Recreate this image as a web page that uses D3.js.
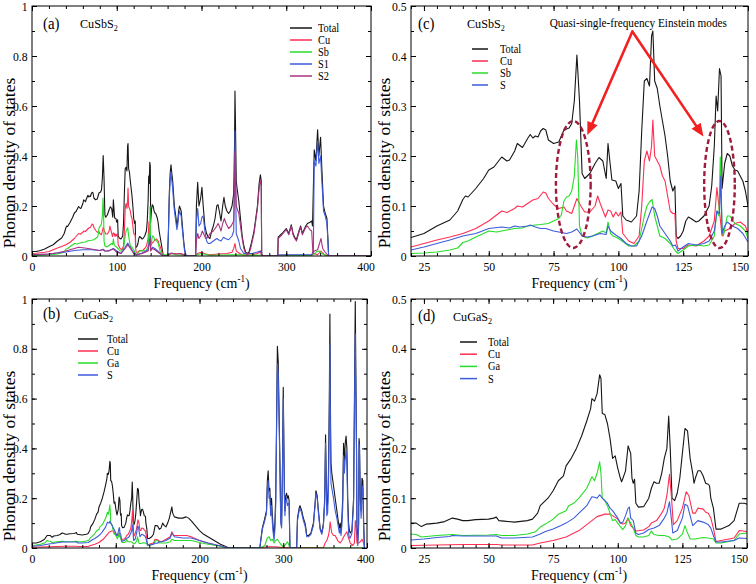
<!DOCTYPE html>
<html><head><meta charset="utf-8">
<script src="https://cdn.jsdelivr.net/npm/d3@7"></script>
<style>body{margin:0;background:#fff}svg{display:block}svg text{font-family:"Liberation Serif","Times New Roman","DejaVu Serif",serif}</style>
</head><body><svg id="chart" width="756" height="584"></svg>
<script>
// ---------------- DATA (frequency cm^-1, phonon DOS) ----------------
// CuSbS2, 20-150 cm^-1 (panel c, also low part of panel a)
const cTotal=[[20,.037],[25,.045],[30,.06],[35,.072],[38,.09],[40,.113],[41,.12],[42,.118],[45,.135],[48,.155],[50,.172],[52,.178],[55,.198],[57,.19],[58,.192],[60,.21],[61,.225],[63,.217],[65,.235],[66,.243],[67,.236],[68,.24],[69,.238],[70,.25],[71,.255],[72,.252],[73,.232],[75,.225],[77,.228],[78,.24],[79,.252],[81,.256],[82,.265],[83,.31],[84,.402],[85,.31],[86,.165],[87,.155],[89,.165],[91,.185],[92.5,.197],[94,.19],[95.3,.155],[96,.225],[96.7,.19],[97.5,.152],[99,.15],[100,.135],[101,.145],[101.7,.08],[103,.072],[105,.068],[107,.08],[108,.13],[109,.25],[110,.35],[111,.355],[112,.34],[112.8,.44],[113.3,.45],[114,.35],[115,.335],[116,.3],[117,.27],[118,.24],[119,.2],[120,.15],[121,.13],[121.8,.14],[122.3,.04],[123,.035],[124,.04],[125,.05],[126,.07],[127,.078],[128,.075],[130,.068],[131,.07],[133,.08],[135,.1],[136,.14],[137,.22],[137.7,.32],[138.3,.29],[139,.375],[139.6,.36],[140,.135],[140.5,.16],[141,.185],[142,.205],[143,.2],[144,.18],[145,.172],[146,.17],[147,.16],[148,.15],[149,.13],[150,.1]];
const cCu=[[20,.018],[25,.025],[30,.032],[35,.038],[40,.045],[45,.055],[50,.07],[53,.082],[55,.09],[57,.087],[60,.095],[61,.1],[63,.098],[65,.105],[67,.112],[69,.115],[71,.128],[72,.126],[73,.115],[75,.103],[77,.095],[79,.098],[80,.09],[82,.085],[84,.115],[85.5,.1],[87,.088],[89,.088],[91,.1],[92,.12],[93,.105],[95,.078],[96,.092],[97,.09],[98,.078],[99,.088],[100,.08],[101,.088],[101.7,.045],[104,.03],[106,.025],[108,.04],[109,.1],[110,.19],[111,.21],[112,.19],[112.8,.22],[113.3,.272],[114,.2],[115,.19],[116,.18],[117,.16],[118,.15],[119,.12],[120,.09],[121,.085],[121.8,.085],[122.3,.03],[123,.015],[125,.015],[127,.022],[130,.02],[133,.03],[135,.04],[137,.07],[138,.137],[139,.09],[140,.04],[141,.05],[143,.055],[145,.065],[147,.068],[149,.06],[150,.045]];
const cSb=[[20,.005],[25,.006],[30,.008],[35,.012],[38,.016],[40,.027],[42,.03],[45,.038],[48,.045],[50,.05],[53,.048],[55,.05],[58,.053],[60,.055],[63,.056],[65,.06],[68,.062],[70,.063],[73,.065],[75,.07],[77,.075],[78,.082],[79,.11],[80,.118],[81,.12],[82,.13],[83,.16],[83.8,.232],[84.3,.2],[85,.06],[86,.04],[88,.036],[90,.04],[92,.045],[94,.05],[95.3,.046],[96,.068],[97,.045],[98,.04],[100,.035],[102,.028],[104,.02],[106,.02],[108,.03],[110,.08],[111,.1],[112,.108],[113,.113],[114,.08],[116,.04],[118,.035],[120,.025],[122,.01],[123,.005],[125,.012],[127,.02],[130,.022],[133,.02],[135,.022],[137,.04],[138,.09],[138.8,.08],[139.3,.198],[140,.06],[140.5,.04],[142,.08],[143,.08],[145,.065],[147,.06],[149,.05],[150,.035]];
const cS=[[20,.012],[25,.018],[30,.025],[35,.032],[40,.04],[45,.045],[50,.055],[55,.058],[58,.056],[60,.06],[62,.058],[65,.06],[66,.062],[68,.058],[70,.055],[72,.055],[75,.05],[80,.045],[82,.048],[84,.054],[86,.04],[88,.038],[90,.04],[93,.045],[95.3,.043],[96,.06],[97,.05],[99,.042],[101,.035],[103,.025],[105,.02],[107,.02],[109,.04],[111,.07],[113,.098],[114,.095],[115,.08],[116,.06],[118,.045],[120,.03],[121,.02],[122,.022],[123,.01],[125,.018],[127,.025],[130,.022],[133,.025],[135,.03],[137,.05],[138,.09],[139,.085],[139.5,.16],[140,.045],[141,.06],[142,.068],[144,.06],[146,.055],[148,.045],[150,.028]];

// CuSbS2, 0-20 and 150-400 cm^-1 (rest of panel a)
const aTotalLow=[[0,.018],[5,.018],[10,.022],[15,.028]];
const aCuLow=[[0,.01],[5,.011],[10,.013],[15,.015]];
const aSbLow=[[0,.002],[5,.002],[10,.003],[15,.004]];
const aTotalHigh=[[151,.08],[152,.06],[154,.02],[155,0],[160,0],[161,.1],[162,.25],[163,.33],[164,.365],[165,.33],[166,.3],[167,.25],[168,.2],[170,.15],[171,.12],[172,.14],[173,.18],[174,.2],[175,.19],[176,.18],[177,.14],[178,.1],[179,.06],[180,.03],[181,.01],[182,0],[193,0],[194,.2],[195.5,.295],[197,.2],[199,.23],[200.5,.275],[202,.2],[204,.12],[206,.09],[208,.075],[210,.07],[212,.1],[214,.12],[216,.15],[218,.2],[219.5,.205],[221,.18],[223,.14],[225,.2],[226.5,.235],[228,.2],[230,.18],[232,.17],[234,.18],[236,.2],[238,.25],[239,.45],[239.5,.66],[240,.55],[241,.3],[242,.27],[244,.22],[246,.15],[248,.08],[250,.04],[252,.015],[254,.01],[256,.015],[258,.04],[260,.07],[262,.1],[264,.15],[266,.2],[268,.29],[269.5,.325],[270.5,.3],[271,.01],[272,0],[290,0],[290.5,.075],[295,.09],[300,.11],[303,.09],[306,.125],[308,.09],[310,.075],[312,.065],[315,.1],[317,.12],[319,.09],[321,.105],[323,.12],[325,.13],[328,.135],[330,.14],[331,.12],[333,.425],[335,.38],[337,.505],[338.5,.4],[340.5,.475],[342,.35],[344,.2],[346,.17],[348,.15],[349,.08],[350,0],[400,0]];
const aCuHigh=[[151,.04],[153,.02],[155,0],[160,0],[161,.005],[164,.01],[170,.008],[175,.01],[180,.005],[182,0],[193,0],[195,.01],[200,.015],[205,.008],[210,.005],[220,.008],[230,.01],[236,.015],[238,.03],[239.5,.05],[241,.02],[245,.01],[250,.003],[260,.005],[266,.01],[269.5,.02],[271,0],[290,0],[300,.003],[330,.003],[333,.01],[337,.005],[341,.02],[345,.005],[350,0],[400,0]];
const aSbHigh=[[151,.02],[153,.01],[155,.005],[160,.005],[165,.01],[170,.005],[180,.003],[182,0],[193,0],[195,.005],[200,.01],[210,.003],[240,.005],[270,.003],[271,0],[290,0],[330,.003],[334,.01],[336,.018],[339,.02],[341,.012],[345,.005],[350,0],[400,0]];
const aS1=[[0,.005],[10,.007],[20,.008],[30,.012],[40,.016],[50,.022],[60,.025],[70,.025],[80,.022],[84,.027],[86,.02],[90,.02],[96,.03],[100,.02],[105,.01],[110,.035],[113,.052],[115,.04],[120,.015],[123,.005],[130,.012],[137,.025],[139.5,.08],[140,.022],[142,.035],[145,.03],[150,.015],[153,.005],[155,0],[160,0],[161,.09],[162,.23],[163,.3],[164,.335],[165,.3],[166,.27],[167,.22],[168,.18],[170,.13],[171,.105],[172,.125],[173,.16],[174,.18],[175,.17],[176,.16],[177,.12],[178,.085],[179,.05],[180,.02],[182,0],[193,0],[194,.14],[195.5,.19],[197,.12],[199,.13],[200.5,.155],[202,.16],[204,.1],[206,.06],[208,.05],[210,.05],[214,.06],[218,.07],[220,.065],[223,.06],[226,.075],[228,.07],[232,.065],[236,.08],[238,.1],[239,.3],[239.5,.5],[240,.35],[241,.09],[242,.08],[244,.06],[246,.03],[250,.01],[260,.01],[270,.02],[271,0],[290,0],[291,.005],[330,.005],[332,.02],[333,.38],[335,.36],[337,.46],[338.5,.37],[340.5,.4],[342,.3],[344,.18],[346,.16],[348,.13],[349,.07],[350,0],[400,0]];
const aS2=[[0,.005],[10,.006],[20,.008],[30,.013],[40,.02],[50,.03],[55,.035],[60,.033],[70,.028],[80,.022],[84,.025],[86,.02],[90,.02],[96,.028],[100,.015],[105,.01],[110,.03],[113,.045],[115,.035],[120,.01],[123,.004],[130,.01],[137,.02],[139.5,.07],[140,.02],[142,.03],[145,.025],[150,.012],[153,.005],[155,0],[160,0],[164,.012],[170,.008],[175,.01],[180,.003],[182,0],[193,0],[194,.06],[195.5,.09],[197,.07],[199,.08],[201,.1],[203,.085],[205,.07],[208,.075],[210,.09],[214,.1],[218,.12],[219.5,.13],[221,.12],[223,.1],[225,.13],[227,.15],[229,.13],[232,.11],[235,.12],[238,.14],[239,.3],[239.5,.42],[240,.35],[241,.2],[242,.19],[244,.17],[246,.12],[248,.07],[250,.03],[252,.01],[254,.005],[256,.01],[258,.03],[260,.06],[262,.09],[264,.14],[266,.19],[268,.27],[269.5,.305],[270.5,.28],[271,.01],[272,0],[290,0],[290.5,.07],[295,.085],[300,.105],[303,.085],[306,.12],[308,.085],[310,.07],[312,.06],[315,.095],[317,.115],[319,.085],[321,.1],[323,.115],[325,.12],[328,.105],[330,.1],[331.5,.01],[333,.02],[337,.025],[341,.07],[343,.03],[346,.015],[350,0],[400,0]];

// CuGaS2, 20-150 cm^-1 (panel d, also low part of panel b)
const dTotal=[[20,.05],[22,.05],[24,.043],[26,.048],[30,.05],[33,.053],[36,.06],[38,.058],[40,.055],[42,.055],[45,.057],[50,.058],[52,.06],[53,.062],[54,.055],[56,.054],[60,.052],[65,.055],[67,.058],[69,.07],[70,.085],[71,.09],[73,.1],[75,.115],[77,.135],[79,.145],[80,.165],[82,.18],[84,.2],[86,.225],[88,.255],[89.5,.28],[90,.3],[91,.295],[92,.31],[93,.348],[93.5,.34],[94,.27],[95,.268],[96,.25],[97,.22],[98,.18],[99,.185],[100,.16],[101,.14],[101.5,.133],[102,.14],[103,.155],[104,.205],[105,.19],[105.5,.14],[106,.13],[106.5,.138],[107,.09],[108,.082],[110,.083],[112,.1],[113,.12],[114,.133],[115,.13],[116,.13],[117,.15],[118,.18],[119,.2],[119.7,.265],[120.3,.2],[121,.1],[122,.095],[123,.11],[124,.14],[125,.19],[126,.24],[127,.235],[128,.18],[129,.15],[129.5,.13],[130,.14],[131,.155],[132,.155],[133,.145],[134,.13],[135,.128],[135.5,.125],[136,.1],[137,.08],[138,.038],[140,.038],[143,.045],[145,.055],[147,.09],[149,.09],[150,.088]];
const dCu=[[20,.005],[30,.006],[40,.007],[50,.007],[53,.007],[55,.006],[60,.006],[67,.006],[70,.01],[75,.015],[80,.022],[85,.035],[88,.047],[90,.055],[92,.063],[95,.068],[97,.068],[98,.065],[100,.058],[101,.05],[102,.048],[103,.05],[104,.06],[105,.045],[106,.04],[107,.034],[110,.036],[112,.043],[113,.05],[115,.055],[117,.07],[118,.08],[119,.105],[120,.148],[120.8,.1],[121.5,.047],[123,.055],[125,.08],[126.5,.113],[127.5,.105],[129,.07],[130,.07],[131,.08],[133,.078],[134,.072],[135,.07],[136,.06],[137,.04],[138,.013],[140,.015],[145,.02],[147,.035],[150,.033]];
const dGa=[[20,.028],[22,.027],[24,.022],[26,.023],[30,.025],[36,.027],[40,.025],[50,.026],[53,.027],[55,.025],[60,.025],[65,.028],[68,.032],[70,.042],[72,.048],[75,.058],[77,.068],[80,.075],[81,.085],[83,.09],[85,.1],[88,.12],[90,.143],[91,.135],[92,.15],[93,.173],[93.5,.15],[94,.1],[95,.095],[96,.085],[97,.07],[98,.055],[99,.057],[100,.05],[101,.043],[102,.037],[103,.045],[104,.06],[105,.05],[106,.04],[107,.025],[108,.022],[110,.022],[112,.025],[113,.034],[114,.027],[116,.025],[118,.025],[120,.022],[121,.016],[123,.018],[125,.028],[126,.045],[127,.03],[128,.018],[130,.018],[133,.021],[135,.02],[137,.018],[138,.01],[140,.01],[145,.015],[147,.028],[150,.03]];
const dS=[[20,.016],[25,.018],[30,.021],[35,.023],[36,.025],[40,.024],[45,.024],[50,.024],[53,.024],[55,.02],[60,.02],[67,.022],[70,.028],[72,.033],[75,.038],[78,.045],[80,.05],[83,.06],[85,.07],[88,.085],[90,.103],[91,.102],[92,.1],[93,.107],[94,.1],[95,.095],[96,.09],[97,.08],[98,.075],[100,.06],[101,.05],[102,.052],[103,.065],[104,.08],[104.5,.082],[105,.06],[106,.055],[107,.03],[108,.027],[110,.03],[112,.037],[114,.04],[116,.045],[118,.06],[119,.07],[120,.093],[120.5,.07],[121.3,.03],[123,.035],[125,.06],[126,.088],[127,.085],[128,.065],[129,.045],[130,.05],[131,.055],[133,.052],[135,.047],[136,.04],[137,.025],[138,.012],[140,.012],[145,.015],[147,.02],[150,.019]];

// CuGaS2, 0-20 and 150-400 cm^-1 (rest of panel b)
const bTotalLow=[[0,.02],[5,.02],[10,.025],[15,.035],[18,.05]];
const bCuLow=[[0,.003],[10,.004]];
const bGaLow=[[0,.01],[5,.012],[10,.015],[15,.02],[18,.03]];
const bSLow=[[0,.007],[10,.01],[15,.013]];
const bTotalHigh=[[152,.075],[154,.08],[156,.1],[158,.09],[160,.085],[162,.1],[164,.12],[166,.15],[167,.165],[168,.14],[170,.125],[175,.12],[180,.12],[184,.125],[187,.12],[190,.11],[195,.09],[200,.07],[205,.055],[210,.045],[215,.035],[220,.025],[225,.015],[230,.008],[235,0],[272,0],[275,.08],[278,.12],[280,.15],[281,.27],[282,.31],[283,.23],[284,.24],[285,.15],[286,.2],[287,.13],[288,.08],[289,.05],[290,.1],[291,.2],[292,.5],[293,.81],[294,.75],[295,.55],[296,.35],[297,.12],[298,.09],[299,.3],[300,.645],[300.8,.4],[301.5,.2],[302,.15],[303,.21],[304,.22],[305,.2],[306,.21],[307,.19],[308,0],[316,0],[317,.12],[319,.16],[320,.17],[322,.15],[324,.12],[326,.1],[327,.08],[328,.05],[330,.05],[333,.06],[336,.1],[338,.18],[339,.23],[340.5,.21],[342,.15],[344,.08],[346,.06],[348,.1],[349.5,.2],[350.5,.455],[351.5,.25],[352,.16],[353,.18],[354,.3],[355,.6],[355.7,.94],[356.5,.5],[357,.34],[358,.3],[360,.25],[362,.2],[364,.15],[366,.1],[367,.08],[368,.1],[369,.07],[370,.12],[371,.2],[372,.42],[373,.35],[374,.42],[375,.45],[376,.4],[377,.2],[378,.1],[379,.07],[380,.06],[382,.07],[384,.2],[385,.6],[386,.99],[386.7,.7],[387.5,.4],[388,.08],[389,.03],[390,.1],[390.5,.44],[391,.42],[392,.2],[393,.15],[394,.28],[395,.27],[396,.1],[397,0]];
const bCuHigh=[[152,.028],[155,.025],[160,.035],[165,.045],[167,.065],[169,.05],[172,.05],[180,.05],[185,.05],[190,.045],[200,.03],[210,.02],[220,.012],[230,.005],[235,0],[272,0],[280,.005],[290,.005],[300,.002],[348,.002],[350,.02],[352,.03],[354,.05],[355,.07],[356,.105],[357,.08],[358,.06],[360,.05],[362,.05],[365,.03],[368,.02],[370,.03],[373,.05],[375,.06],[376,.065],[378,.04],[380,.02],[383,.01],[385,.02],[386,.11],[387,.09],[388,.02],[390,.02],[392,.025],[394,.035],[396,.02],[397,0]];
const bGaHigh=[[152,.02],[155,.02],[160,.02],[165,.025],[167,.035],[170,.03],[180,.03],[190,.03],[200,.022],[210,.015],[220,.01],[230,.003],[235,0],[272,0],[278,.01],[281,.04],[283,.045],[285,.03],[287,.035],[289,.02],[291,.03],[293,.035],[295,.025],[297,.015],[300,.005],[303,.015],[305,.025],[307,.01],[308,0],[397,0]];
const bSHigh=[[152,.025],[155,.025],[160,.03],[165,.04],[167,.06],[170,.045],[180,.04],[190,.04],[200,.03],[210,.02],[220,.012],[230,.005],[235,0],[272,0],[275,.075],[278,.11],[280,.14],[281,.24],[282,.27],[283,.2],[284,.21],[285,.13],[286,.17],[287,.1],[288,.06],[289,.03],[290,.07],[291,.17],[292,.46],[293,.74],[294,.7],[295,.52],[296,.32],[297,.1],[298,.08],[299,.28],[300,.6],[300.8,.37],[301.5,.18],[302,.13],[303,.19],[304,.2],[305,.17],[306,.18],[307,.17],[308,0],[316,0],[317,.11],[319,.15],[320,.16],[322,.14],[324,.11],[326,.09],[327,.07],[328,.045],[330,.045],[333,.055],[336,.09],[338,.17],[339,.22],[340.5,.2],[342,.14],[344,.075],[346,.055],[348,.09],[349.5,.18],[350.5,.42],[351.5,.22],[352,.13],[353,.14],[354,.24],[355,.52],[355.7,.82],[356.5,.4],[357,.26],[358,.24],[360,.2],[362,.15],[364,.12],[366,.08],[367,.06],[368,.08],[369,.05],[370,.09],[371,.16],[372,.37],[373,.3],[374,.36],[375,.39],[376,.33],[377,.16],[378,.06],[379,.04],[380,.04],[382,.06],[384,.18],[385,.55],[386,.86],[386.7,.6],[387.5,.38],[388,.06],[389,.01],[390,.08],[390.5,.42],[391,.4],[392,.18],[393,.12],[394,.25],[395,.24],[396,.08],[397,0]];

// tick values
const xTicksFull=[0,100,200,300,400];
const xMinorFull=d3.range(0,401,20);
const xTicksZoom=[25,50,75,100,125,150];
const xMinorZoom=d3.range(20,151,5);
const yTicksFull=[0,0.2,0.4,0.6,0.8,1];
const yMinorFull=[0,0.1,0.2,0.3,0.4,0.5,0.6,0.7,0.8,0.9,1];
const yTicksZoom=[0,0.1,0.2,0.3,0.4,0.5];
const yMinorZoom=[0,0.05,0.1,0.15,0.2,0.25,0.3,0.35,0.4,0.45,0.5];

// annotation (panel c, data coordinates)
const annoText="Quasi-single-frequency Einstein modes";
const annoTextPos=[107.7,0.458];
const arrowApex=[105.4,0.449];
const arrowTips=[[88,0.242],[132.8,0.239]];
const ellipses=[{cx:82.6,cy:0.143,rx:6.7,ry:0.127},{cx:139,cy:0.143,rx:5.9,ry:0.127}];

// ---------------- DRAWING ----------------
const svg=d3.select("#chart");
const FONT='"Liberation Serif","Times New Roman","DejaVu Serif",serif';
const SX=0.9;   // horizontal glyph compression seen in the reference
const colors={Total:"#161616",Cu:"#ff2e52",Sb:"#27dc27",Ga:"#27dc27",S:"#3d5bdb",S1:"#3d5bdb",S2:"#a8337f"};

function txt(sel,size){ return sel.style("font-family",FONT).attr("font-size",size).attr("fill","#000"); }

function panel(cfg){
  const x=d3.scaleLinear().domain(cfg.xDomain).range([cfg.left,cfg.right]);
  const y=d3.scaleLinear().domain(cfg.yDomain).range([cfg.bottom,cfg.top]);
  const g=svg.append("g");
  const id="clip_"+cfg.name;
  svg.append("clipPath").attr("id",id).append("rect")
    .attr("x",cfg.left).attr("y",cfg.top-2).attr("width",cfg.right-cfg.left).attr("height",cfg.bottom-cfg.top+2);
  const lg=g.append("g").attr("clip-path",`url(#${id})`);
  const line=d3.line().x(d=>x(d[0])).y(d=>y(d[1]));
  cfg.series.forEach(s=>{
    lg.append("path").datum(s.data).attr("d",line).attr("fill","none")
      .attr("stroke",colors[s.name]).attr("stroke-width",1.1).attr("stroke-linejoin","round");
  });
  g.append("rect").attr("x",cfg.left).attr("y",cfg.top).attr("width",cfg.right-cfg.left).attr("height",cfg.bottom-cfg.top)
    .attr("fill","none").attr("stroke","#000").attr("stroke-width",1);
  const fmt=d3.format("~g");
  function styleAxis(a){ a.select(".domain").remove(); a.selectAll("line").attr("stroke","#000"); return a; }
  const ab=styleAxis(g.append("g").attr("transform",`translate(0,${cfg.bottom})`)
    .call(d3.axisBottom(x).tickValues(cfg.xMajor).tickSize(-5).tickPadding(6).tickFormat(fmt)));
  txt(ab.selectAll("text"),13).attr("transform",`scale(${SX},1)`)
    .attr("dx",d=>d===cfg.xDomain[1]?cfg.lastDx:0);
  styleAxis(g.append("g").attr("transform",`translate(0,${cfg.bottom})`).call(d3.axisBottom(x).tickValues(cfg.xMinor).tickSize(-3).tickFormat("")));
  styleAxis(g.append("g").attr("transform",`translate(0,${cfg.top})`).call(d3.axisTop(x).tickValues(cfg.xMajor).tickSize(-5).tickFormat("")));
  styleAxis(g.append("g").attr("transform",`translate(0,${cfg.top})`).call(d3.axisTop(x).tickValues(cfg.xMinor).tickSize(-3).tickFormat("")));
  const al=styleAxis(g.append("g").attr("transform",`translate(${cfg.left},0)`)
    .call(d3.axisLeft(y).tickValues(cfg.yMajor).tickSize(-5).tickPadding(5).tickFormat(fmt)));
  txt(al.selectAll("text"),13).attr("transform",`scale(${SX},1)`);
  styleAxis(g.append("g").attr("transform",`translate(${cfg.left},0)`).call(d3.axisLeft(y).tickValues(cfg.yMinor).tickSize(-3).tickFormat("")));
  styleAxis(g.append("g").attr("transform",`translate(${cfg.right},0)`).call(d3.axisRight(y).tickValues(cfg.yMajor).tickSize(-5).tickFormat("")));
  styleAxis(g.append("g").attr("transform",`translate(${cfg.right},0)`).call(d3.axisRight(y).tickValues(cfg.yMinor).tickSize(-3).tickFormat("")));

  const xt=txt(g.append("text").attr("transform",`translate(${(cfg.left+cfg.right)/2},${cfg.bottom+32}) scale(${SX},1)`)
    .attr("text-anchor","middle"),15.5);
  xt.append("tspan").text("Frequency (cm");
  xt.append("tspan").attr("font-size",10).attr("dy",-6).text("-1");
  xt.append("tspan").attr("dy",6).text(")");
  txt(g.append("text").attr("transform",`translate(${cfg.ylabX},${cfg.ylabY}) scale(${SX},1) rotate(-90)`)
    .attr("text-anchor","middle"),17.5).text("Phonon density of states");

  txt(g.append("text").attr("transform",`translate(${cfg.left+cfg.plab[0]},${cfg.top+cfg.plab[1]}) scale(${SX},1)`),16.5).text(cfg.label);
  const ft=txt(g.append("text").attr("transform",`translate(${cfg.left+cfg.flab[0]},${cfg.top+cfg.flab[1]}) scale(${SX},1)`),13.5);
  ft.append("tspan").text(cfg.formula[0]);
  ft.append("tspan").attr("font-size",9).attr("dy",3).text(cfg.formula[1]);

  cfg.series.forEach((s,i)=>{
    const yy=cfg.top+cfg.leg.y+i*cfg.leg.dy;
    g.append("line").attr("x1",cfg.left+cfg.leg.x1).attr("x2",cfg.left+cfg.leg.x2).attr("y1",yy).attr("y2",yy)
      .attr("stroke",colors[s.name]).attr("stroke-width",1.5);
    txt(g.append("text").attr("transform",`translate(${cfg.left+cfg.leg.tx},${yy+4}) scale(${SX},1)`),11.5).text(s.name);
  });
  return {x,y,g};
}

const pA=panel({name:"a",left:32,right:371,top:6,bottom:256,xDomain:[0,400],yDomain:[0,1],
  xMajor:xTicksFull,xMinor:xMinorFull,yMajor:yTicksFull,yMinor:yMinorFull,lastDx:-6,
  ylabX:15,ylabY:163,label:"(a)",plab:[11,23],formula:["CuSbS","2"],flab:[48,22],
  leg:{x1:258,x2:280,tx:286,y:22,dy:12},
  series:[{name:"Total",data:[...aTotalLow,...cTotal,...aTotalHigh]},
          {name:"Cu",data:[...aCuLow,...cCu,...aCuHigh]},
          {name:"Sb",data:[...aSbLow,...cSb,...aSbHigh]},
          {name:"S1",data:aS1},{name:"S2",data:aS2}]});

const pC=panel({name:"c",left:411,right:748,top:6,bottom:256,xDomain:[20,150],yDomain:[0,0.5],
  xMajor:xTicksZoom,xMinor:xMinorZoom,yMajor:yTicksZoom,yMinor:yMinorZoom,lastDx:-9,
  ylabX:390,ylabY:163,label:"(c)",plab:[7,23],formula:["CuSbS","2"],flab:[56,22],
  leg:{x1:61,x2:77,tx:89,y:43,dy:12},
  series:[{name:"Total",data:cTotal},{name:"Cu",data:cCu},{name:"Sb",data:cSb},{name:"S",data:cS}]});

const pB=panel({name:"b",left:32,right:367,top:299,bottom:548,xDomain:[0,400],yDomain:[0,1],
  xMajor:xTicksFull,xMinor:xMinorFull,yMajor:yTicksFull,yMinor:yMinorFull,lastDx:-2,
  ylabX:15,ylabY:456,label:"(b)",plab:[11,20],formula:["CuGaS","2"],flab:[42,20],
  leg:{x1:46,x2:66,tx:75,y:40,dy:12},
  series:[{name:"Total",data:[...bTotalLow,...dTotal,...bTotalHigh]},
          {name:"Cu",data:[...bCuLow,...dCu,...bCuHigh]},
          {name:"Ga",data:[...bGaLow,...dGa,...bGaHigh]},
          {name:"S",data:[...bSLow,...dS,...bSHigh]}]});

const pD=panel({name:"d",left:411,right:747,top:299,bottom:548,xDomain:[20,150],yDomain:[0,0.5],
  xMajor:xTicksZoom,xMinor:xMinorZoom,yMajor:yTicksZoom,yMinor:yMinorZoom,lastDx:-9,
  ylabX:390,ylabY:456,label:"(d)",plab:[7,22],formula:["CuGaS","2"],flab:[42,22],
  leg:{x1:49,x2:66,tx:77,y:43,dy:12.2},
  series:[{name:"Total",data:dTotal},{name:"Cu",data:dCu},{name:"Ga",data:dGa},{name:"S",data:dS}]});

(function(){
  const {x,y,g}=pC;
  txt(g.append("text").attr("transform",`translate(${x(annoTextPos[0])},${y(annoTextPos[1])}) scale(${SX},1)`)
    .attr("text-anchor","middle"),12.5).text(annoText);
  ellipses.forEach(e=>{
    g.append("ellipse").attr("cx",x(e.cx)).attr("cy",y(e.cy))
      .attr("rx",x(e.cx+e.rx)-x(e.cx)).attr("ry",y(0)-y(e.ry))
      .attr("fill","none").attr("stroke","#9e1b3c").attr("stroke-width",2.4).attr("stroke-dasharray","5,3");
  });
  const ax=x(arrowApex[0]),ay=y(arrowApex[1]);
  arrowTips.forEach(t=>{
    const tx=x(t[0]),ty=y(t[1]);
    const dx=tx-ax,dy=ty-ay,L=Math.hypot(dx,dy),ux=dx/L,uy=dy/L;
    const hl=13,hw=5.5;
    const bx=tx-ux*hl,by=ty-uy*hl;
    g.append("line").attr("x1",ax).attr("y1",ay).attr("x2",bx+ux*2).attr("y2",by+uy*2)
      .attr("stroke","#f22020").attr("stroke-width",2.6).attr("stroke-linecap","round");
    g.append("path").attr("d",`M${tx},${ty}L${bx-uy*hw},${by+ux*hw}L${bx+uy*hw},${by-ux*hw}Z`).attr("fill","#f22020");
  });
})();
</script></body></html>
